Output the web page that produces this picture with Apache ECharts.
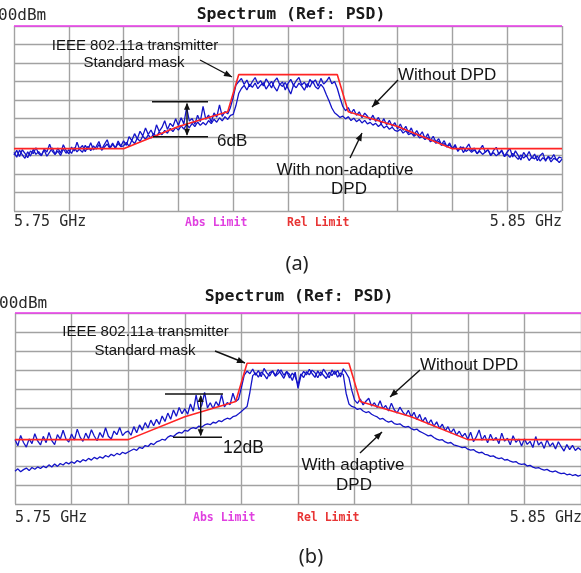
<!DOCTYPE html>
<html>
<head>
<meta charset="utf-8">
<script src="https://cdn.jsdelivr.net/npm/echarts/dist/echarts.min.js"></script>
<style>
  html, body { margin: 0; padding: 0; background: #ffffff; }
  #chart { width: 581px; height: 573px; }
</style>
</head>
<body>
<div id="chart"></div>
<script>
// Sweep settings of the analyzer (frequency in GHz, level in dBm)
const sweepStartGHz = 5.75;
const sweepStopGHz = 5.85;
const sweepPoints = 201;
const refLevelDbm = 0;
const freqTickLabels = ['5.75 GHz', '5.85 GHz'];

// IEEE 802.11a transmit spectrum mask (relative limit)
const maskFreqGHz = [5.75, 5.77, 5.78, 5.789, 5.791, 5.809, 5.811, 5.82, 5.83, 5.85];
const maskLevelDbm = [-66.3, -66.3, -54.3, -46.3, -26.3, -26.3, -46.3, -54.3, -66.3, -66.3];

// (a) PA output without DPD
const topWithoutDpd = [
  -69.8, -67.2, -70.5, -66.9, -68.8, -71.2, -67.5, -69.0, -65.8, -68.9,
  -70.2, -66.5, -68.1, -63.9, -67.8, -69.5, -66.0, -68.7, -64.2, -67.3,
  -69.1, -65.4, -67.6, -62.8, -66.9, -68.2, -64.5, -66.8, -63.1, -67.0,
  -65.2, -62.4, -66.7, -64.0, -61.5, -65.8, -63.3, -66.1, -62.2, -64.9,
  -62.1, -64.5, -59.8, -61.9, -58.2, -61.0, -56.9, -59.4, -55.1, -58.6,
  -56.2, -59.3, -53.4, -57.0, -54.8, -51.2, -55.9, -52.6, -54.3, -50.1,
  -53.8, -49.6, -52.9, -44.0, -51.4, -50.0, -53.1, -48.2, -51.7, -43.5,
  -50.5, -48.1, -51.9, -47.0, -49.3, -42.6, -48.9, -46.2, -47.5, -44.0,
  -38.5, -32.0, -30.1, -28.4, -31.6, -29.2, -32.8, -30.0, -27.9, -31.3,
  -29.5, -32.4, -28.6, -30.9, -33.5, -29.8, -28.1, -31.7, -30.2, -34.6,
  -31.0, -28.8, -32.1, -29.6, -27.8, -31.9, -30.4, -33.2, -28.9, -30.7,
  -29.1, -32.5, -28.3, -31.4, -29.9, -27.6, -31.2, -30.0, -33.8, -38.9,
  -43.5, -45.8, -44.1, -47.2, -45.0, -48.3, -46.4, -49.6, -47.1, -48.8,
  -50.9, -48.2, -51.6, -49.4, -52.8, -50.1, -53.5, -51.0, -54.2, -52.3,
  -55.6, -53.0, -56.4, -54.2, -57.8, -55.1, -58.9, -56.5, -59.4, -57.2,
  -60.8, -58.3, -61.9, -59.6, -62.7, -60.9, -64.1, -62.0, -65.3, -63.2,
  -66.5, -64.1, -67.8, -65.2, -68.4, -66.0, -63.8, -67.5, -65.9, -69.1,
  -66.8, -64.5, -68.2, -66.9, -70.1, -67.3, -65.6, -69.4, -67.0, -70.3,
  -68.1, -66.2, -70.8, -67.5, -69.9, -72.4, -68.3, -70.6, -67.8, -71.5,
  -69.2, -72.8, -70.0, -68.7, -73.1, -70.4, -71.9, -69.5, -72.6, -70.8,
  -71.5
];

// (a) PA output with non-adaptive DPD
const topNonAdaptiveDpd = [
  -68.4, -70.9, -67.1, -69.6, -71.5, -68.0, -70.3, -66.7, -69.4, -67.9,
  -69.8, -67.0, -70.4, -68.2, -65.9, -69.3, -67.6, -70.0, -66.4, -68.8,
  -66.9, -68.9, -65.7, -68.0, -66.2, -64.6, -67.9, -65.0, -67.4, -64.8,
  -66.6, -64.1, -67.2, -65.4, -63.8, -66.3, -64.0, -65.9, -63.5, -65.2,
  -64.8, -62.9, -65.1, -61.8, -63.6, -60.7, -62.4, -59.5, -61.3, -58.9,
  -60.6, -58.1, -59.9, -57.2, -58.8, -56.4, -58.0, -55.3, -57.1, -54.8,
  -56.3, -54.0, -55.7, -53.2, -55.0, -52.6, -54.4, -51.9, -53.7, -52.2,
  -53.5, -51.1, -52.8, -50.4, -52.0, -49.6, -51.3, -49.0, -50.5, -48.3,
  -47.8, -43.0, -36.5, -33.8, -32.1, -34.6, -31.5, -33.2, -30.8, -33.9,
  -32.0, -30.6, -34.1, -31.8, -29.9, -33.0, -35.2, -31.4, -32.7, -30.5,
  -33.6, -36.8, -31.9, -33.4, -30.9, -32.5, -34.7, -31.2, -33.0, -29.8,
  -32.8, -34.0, -31.6, -33.5, -37.2, -40.6, -44.3, -46.9, -48.1, -49.4,
  -48.7, -50.2, -49.0, -51.1, -49.8, -51.7, -50.5, -52.4, -51.0, -52.9,
  -52.1, -53.6, -52.6, -54.3, -53.0, -55.1, -54.0, -55.8, -54.7, -56.4,
  -56.9, -55.8, -57.9, -56.6, -58.7, -57.9, -59.6, -58.4, -60.5, -59.8,
  -61.4, -60.2, -62.6, -61.5, -63.4, -62.3, -64.6, -63.5, -65.4, -64.2,
  -66.0, -65.1, -67.2, -66.3, -65.4, -67.8, -66.6, -68.3, -67.0, -68.9,
  -67.7, -69.4, -68.1, -66.9, -69.8, -68.5, -70.2, -68.8, -67.6, -70.6,
  -69.3, -71.0, -68.9, -70.5, -72.1, -69.7, -71.4, -70.0, -72.7, -70.9,
  -71.8, -70.3, -73.0, -71.2, -72.4, -70.7, -73.5, -71.6, -72.2, -73.8,
  -72.0
];

// (b) PA output without DPD
const bottomWithoutDpd = [
  -66.2, -69.5, -64.1, -67.8, -70.2, -65.9, -68.4, -63.2, -67.0, -69.1,
  -64.6, -67.9, -62.5, -66.8, -68.9, -63.7, -66.1, -61.4, -65.9, -67.6,
  -63.3, -66.5, -60.8, -65.0, -67.2, -62.9, -65.8, -61.1, -64.4, -66.9,
  -62.6, -65.2, -60.1, -64.5, -66.0, -61.8, -63.7, -59.9, -64.2, -62.5,
  -61.8, -64.0, -59.5, -62.7, -58.6, -61.3, -57.4, -60.2, -56.1, -59.0,
  -55.7, -58.3, -53.9, -56.8, -52.4, -55.6, -50.8, -54.1, -49.5, -52.7,
  -50.2, -53.0, -47.6, -51.4, -43.0, -50.6, -48.3, -41.5, -49.7, -47.0,
  -50.1, -46.4, -48.8, -42.8, -49.2, -46.9, -48.0, -42.0, -46.3, -45.1,
  -39.0, -32.5, -30.4, -31.8, -29.3, -32.6, -30.1, -33.4, -29.0, -31.5,
  -33.0, -30.2, -32.8, -29.6, -31.9, -34.2, -30.7, -32.1, -35.3, -31.0,
  -39.5, -33.1, -30.6, -32.4, -29.5, -31.8, -33.7, -30.3, -32.9, -29.4,
  -31.6, -33.9, -29.8, -32.2, -30.0, -33.5, -29.2, -31.4, -34.0, -40.5,
  -45.6, -47.3, -45.0, -48.1, -46.2, -44.6, -48.7, -47.0, -49.5, -45.9,
  -50.1, -48.4, -51.3, -47.2, -50.6, -52.4, -49.3, -51.8, -53.6, -50.9,
  -54.5, -52.0, -55.8, -53.1, -56.9, -54.7, -58.2, -55.9, -59.3, -57.0,
  -60.4, -58.2, -61.7, -59.5, -62.8, -60.6, -63.9, -61.9, -64.8, -63.0,
  -66.1, -62.4, -67.3, -64.9, -61.2, -66.6, -64.0, -68.0, -63.5, -66.8,
  -65.2, -68.4, -62.9, -67.1, -65.6, -69.0, -64.3, -67.7, -66.0, -69.6,
  -65.9, -68.8, -67.2, -70.4, -64.7, -69.1, -67.5, -70.9, -66.3, -69.8,
  -68.0, -71.2, -67.4, -70.0, -72.3, -68.9, -71.5, -69.3, -72.0, -70.6,
  -71.8
];

// (b) PA output with adaptive DPD
const bottomAdaptiveDpd = [
  -82.8, -81.6, -83.1, -82.0, -81.2, -82.5, -80.9, -81.8, -80.6, -81.4,
  -80.2, -81.0, -79.5, -80.6, -79.1, -80.3, -78.8, -79.6, -78.2, -79.0,
  -77.9, -78.7, -77.2, -78.1, -76.8, -77.5, -76.1, -77.0, -75.6, -76.4,
  -75.3, -76.0, -74.6, -75.4, -74.0, -74.8, -73.5, -74.2, -72.9, -73.6,
  -72.8, -72.0, -71.2, -71.9, -70.3, -70.9, -69.4, -69.9, -68.3, -68.9,
  -67.5, -67.0, -66.1, -66.6, -65.0, -64.2, -64.7, -63.3, -62.5, -62.9,
  -61.4, -61.9, -60.6, -60.0, -60.5, -59.2, -59.7, -58.6, -58.1, -58.5,
  -57.2, -57.6, -56.4, -56.9, -55.8, -55.1, -55.5, -54.3, -53.9, -52.8,
  -51.6, -50.2, -49.0, -41.5, -32.8, -31.4, -33.6, -30.9, -32.3, -34.5,
  -31.2, -30.4, -33.1, -31.7, -29.8, -32.6, -30.5, -34.0, -31.5, -33.3,
  -37.6, -31.9, -33.8, -30.7, -32.4, -29.9, -31.3, -33.9, -30.8, -32.6,
  -34.3, -31.0, -32.8, -30.4, -33.6, -31.5, -32.2, -42.0, -47.6, -48.9,
  -49.4, -50.5, -50.0, -51.3, -52.1, -51.7, -53.0, -53.8, -54.4, -55.6,
  -55.2, -56.4, -57.1, -56.6, -57.9, -58.3, -58.0, -59.2, -59.8, -59.4,
  -60.5, -61.2, -60.8, -62.0, -62.7, -63.5, -64.3, -64.0, -65.2, -66.0,
  -66.6, -66.3, -67.5, -68.1, -67.8, -69.0, -69.4, -69.9, -70.5, -70.2,
  -71.3, -71.8, -71.5, -72.6, -73.2, -72.9, -74.0, -74.3, -75.1, -74.8,
  -75.7, -76.2, -75.9, -77.0, -76.7, -77.6, -78.1, -77.8, -78.9, -79.3,
  -79.0, -80.1, -79.8, -80.7, -81.2, -80.9, -81.8, -82.3, -81.9, -82.8,
  -83.2, -82.7, -83.6, -84.1, -83.8, -84.7, -84.3, -85.1, -84.6, -85.4,
  -84.9
];

// Sweep frequency of every trace point
const sweepFreqGHz = Array.from({ length: sweepPoints }, (_, i) =>
  +(sweepStartGHz + i * (sweepStopGHz - sweepStartGHz) / (sweepPoints - 1)).toFixed(4));

const toPairs = (vals) => vals.map((v, i) => [sweepFreqGHz[i], v]);
const maskPairs = maskFreqGHz.map((f, i) => [f, maskLevelDbm[i]]);

const GRID_COLOR = '#a2a2a2';
const TRACE_COLOR = '#1414c8';
const MASK_COLOR = '#ff2424';
const REF_COLOR = '#ee3cee';
const MONO = "'DejaVu Sans Mono', 'Liberation Mono', monospace";
const SANS = "'Liberation Sans', Arial, sans-serif";

function xAxisFor(gridIndex) {
  return {
    type: 'value', gridIndex, min: sweepStartGHz, max: sweepStopGHz, interval: 0.01,
    axisLine: { show: false }, axisTick: { show: false }, axisLabel: { show: false },
    splitLine: { show: true, lineStyle: { color: GRID_COLOR, width: 1.4 } }
  };
}
function yAxisFor(gridIndex) {
  return {
    type: 'value', gridIndex, min: -100, max: refLevelDbm, interval: 10,
    axisLine: { show: false }, axisTick: { show: false }, axisLabel: { show: false },
    splitLine: { show: true, lineStyle: { color: GRID_COLOR, width: 1.4 } }
  };
}
function traceSeries(name, vals, gi) {
  return {
    name, type: 'line', xAxisIndex: gi, yAxisIndex: gi, data: toPairs(vals),
    showSymbol: false, symbol: 'none', silent: true, z: 3,
    lineStyle: { color: TRACE_COLOR, width: 1.3 }
  };
}
function maskSeries(gi) {
  return {
    name: 'Rel Limit', type: 'line', xAxisIndex: gi, yAxisIndex: gi, data: maskPairs,
    showSymbol: false, symbol: 'none', silent: true, z: 4,
    lineStyle: { color: MASK_COLOR, width: 1.6 },
    markLine: {
      silent: true, symbol: 'none', label: { show: false },
      lineStyle: { color: REF_COLOR, width: 1.6, type: 'solid' },
      data: [{ yAxis: refLevelDbm }]
    }
  };
}

// Annotation helpers
function txt(text, x, y, font, fill, align) {
  return { type: 'text', x, y, z: 10, silent: true,
    style: { text, font, fill: fill || '#141414', align: align || 'center', verticalAlign: 'middle' } };
}
function seg(x1, y1, x2, y2, w) {
  return { type: 'line', z: 10, silent: true, shape: { x1, y1, x2, y2 },
    style: { stroke: '#111', lineWidth: w || 1.4 } };
}
function head(x1, y1, x2, y2, len, half) {
  const dx = x2 - x1, dy = y2 - y1, d = Math.hypot(dx, dy);
  const ux = dx / d, uy = dy / d;
  const bx = x2 - ux * len, by = y2 - uy * len;
  return { type: 'polygon', z: 10, silent: true,
    shape: { points: [[x2, y2], [bx - uy * half, by + ux * half], [bx + uy * half, by - ux * half]] },
    style: { fill: '#111' } };
}
function arrow(x1, y1, x2, y2) {
  return [seg(x1, y1, x2, y2, 1.4), head(x1, y1, x2, y2, 8, 3.2)];
}
function bracket(xa1, xa2, ya, xb1, xb2, yb, xm) {
  return [seg(xa1, ya, xa2, ya, 1.4), seg(xb1, yb, xb2, yb, 1.4), seg(xm, ya + 2, xm, yb - 2, 1.4),
    head(xm, yb, xm, ya + 1, 7, 3), head(xm, ya, xm, yb - 1, 7, 3)];
}

const graphics = [
  // panel (a) screen texts
  txt('00dBm', -2, 16, '16px ' + MONO, '#2a2a2a', 'left'),
  txt('Spectrum (Ref: PSD)', 291, 15, 'bold 16.5px ' + MONO, '#1a1a1a'),
  txt(freqTickLabels[0], 14, 222, '15px ' + MONO, '#2a2a2a', 'left'),
  txt(freqTickLabels[1], 562, 222, '15px ' + MONO, '#2a2a2a', 'right'),
  txt('Abs Limit', 185, 223, 'bold 11.5px ' + MONO, '#e040e0', 'left'),
  txt('Rel Limit', 287, 223, 'bold 11.5px ' + MONO, '#e83434', 'left'),
  txt('(a)', 297, 264, '20px ' + "'Noto Sans', sans-serif", '#222'),
  // panel (a) annotations
  txt('IEEE 802.11a transmitter', 135, 46, '15px ' + SANS),
  txt('Standard mask', 134, 62.5, '15px ' + SANS),
  ...arrow(200, 60, 232, 77),
  ...bracket(152, 208, 101.7, 153, 208, 136.7, 187),
  txt('6dB', 217, 141, '17px ' + SANS, null, 'left'),
  txt('Without DPD', 398, 75, '17px ' + SANS, null, 'left'),
  ...arrow(398, 80, 372, 107),
  txt('With non-adaptive', 345, 170, '17px ' + SANS),
  txt('DPD', 349, 189, '17px ' + SANS),
  ...arrow(350, 158, 362, 133),

  // panel (b) screen texts
  txt('00dBm', -1, 304, '16px ' + MONO, '#2a2a2a', 'left'),
  txt('Spectrum (Ref: PSD)', 299, 297, 'bold 16.5px ' + MONO, '#1a1a1a'),
  txt(freqTickLabels[0], 15, 518, '15px ' + MONO, '#2a2a2a', 'left'),
  txt(freqTickLabels[1], 582, 518, '15px ' + MONO, '#2a2a2a', 'right'),
  txt('Abs Limit', 193, 518, 'bold 11.5px ' + MONO, '#e040e0', 'left'),
  txt('Rel Limit', 297, 518, 'bold 11.5px ' + MONO, '#e83434', 'left'),
  txt('(b)', 311, 557, '20px ' + "'Noto Sans', sans-serif", '#222'),
  // panel (b) annotations
  txt('IEEE 802.11a transmitter', 145.5, 332, '15px ' + SANS),
  txt('Standard mask', 145, 351, '15px ' + SANS),
  ...arrow(215, 351, 245, 363),
  ...bracket(165, 223, 394, 173, 222, 437.3, 200.7),
  txt('12dB', 223, 448.5, '17.5px ' + SANS, null, 'left'),
  txt('Without DPD', 420, 365, '17px ' + SANS, null, 'left'),
  ...arrow(420, 370, 390, 397),
  txt('With adaptive', 353, 465, '17px ' + SANS),
  txt('DPD', 354, 485, '17px ' + SANS),
  ...arrow(360, 453, 382, 432)
];

const chart = echarts.init(document.getElementById('chart'), null, { renderer: 'canvas' });
chart.setOption({
  animation: false,
  backgroundColor: '#ffffff',
  grid: [
    { left: 14, top: 26, width: 548, height: 185, show: false },
    { left: 15, top: 313, width: 567, height: 191, show: false }
  ],
  xAxis: [xAxisFor(0), xAxisFor(1)],
  yAxis: [yAxisFor(0), yAxisFor(1)],
  series: [
    traceSeries('Without DPD', topWithoutDpd, 0),
    traceSeries('With non-adaptive DPD', topNonAdaptiveDpd, 0),
    maskSeries(0),
    traceSeries('Without DPD', bottomWithoutDpd, 1),
    traceSeries('With adaptive DPD', bottomAdaptiveDpd, 1),
    maskSeries(1)
  ],
  graphic: graphics
});
</script>
</body>
</html>
